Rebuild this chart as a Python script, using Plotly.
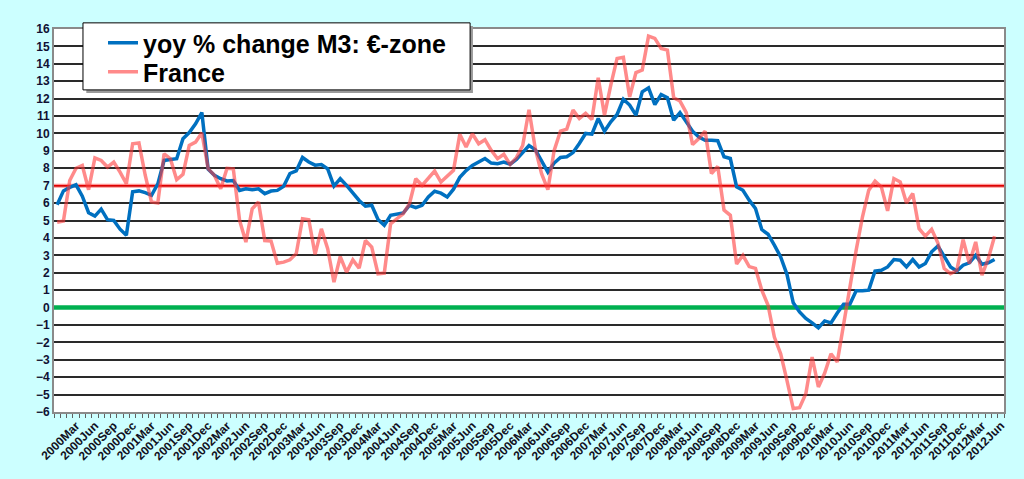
import pandas as pd
import plotly.graph_objects as go

# monthly categories, Dec 1999 .. Jun 2012 (last category has no data)
months = pd.period_range("1999-12", "2012-06", freq="M")
cat_labels = [f"{p.year}{p.strftime('%b')}" for p in months]

# yoy % change of M3, euro zone
m3_ez = [
    5.9, 6.7, 6.9, 7.05, 6.4, 5.45, 5.25, 5.65, 5.05, 5.0,
    4.5, 4.15, 6.65, 6.7, 6.6, 6.45, 7.1, 8.45, 8.5, 8.55,
    9.7, 10.05, 10.55, 11.2, 7.95, 7.6, 7.4, 7.27, 7.3, 6.73,
    6.82, 6.77, 6.82, 6.54, 6.69, 6.73, 6.96, 7.7, 7.85, 8.62,
    8.36, 8.18, 8.22, 7.97, 6.98, 7.4, 7.02, 6.56, 6.15, 5.82,
    5.88, 5.06, 4.72, 5.3, 5.39, 5.43, 5.87, 5.74, 5.87, 6.35,
    6.68, 6.57, 6.35, 6.8, 7.48, 7.87, 8.16, 8.38, 8.56, 8.3,
    8.26, 8.36, 8.23, 8.5, 8.93, 9.31, 9.07, 8.45, 7.78, 8.3,
    8.62, 8.66, 8.9, 9.42, 10.0, 9.96, 10.86, 10.13, 10.67, 11.09,
    11.97, 11.63, 11.05, 12.39, 12.62, 11.66, 12.24, 12.05, 10.76, 11.2,
    10.63, 10.13, 9.8, 9.61, 9.61, 9.58, 8.66, 8.56, 6.93, 6.74,
    6.17, 5.69, 4.48, 4.21, 3.58, 2.91, 1.91, 0.27, -0.25, -0.63,
    -0.88, -1.17, -0.77, -0.88, -0.31, 0.19, 0.19, 0.96, 0.96, 1.0,
    2.1, 2.14, 2.33, 2.76, 2.72, 2.33, 2.76, 2.33, 2.53, 3.2,
    3.54, 2.95, 2.33, 2.1, 2.43, 2.57, 3.0, 2.49, 2.57, 2.76,
]

# France
m3_fr = [
    4.9, 4.97, 7.3, 8.0, 8.16, 6.77, 8.6, 8.45, 8.07, 8.36,
    7.78, 7.11, 9.41, 9.45, 7.6, 6.06, 6.0, 8.83, 8.55, 7.34,
    7.65, 9.31, 9.5, 10.04, 7.97, 7.59, 6.82, 8.0, 7.97, 5.0,
    3.76, 5.67, 6.06, 3.85, 3.82, 2.55, 2.61, 2.74, 3.09, 5.1,
    5.04, 3.05, 4.52, 3.38, 1.46, 2.93, 2.03, 2.74, 2.26, 3.85,
    3.47, 1.94, 1.98, 4.81, 5.1, 5.39, 5.96, 7.4, 7.02, 7.4,
    7.84, 7.21, 7.53, 7.88, 9.95, 9.22, 9.98, 9.41, 9.64, 9.03,
    8.55, 8.8, 8.22, 8.61, 9.31, 11.36, 9.12, 7.69, 6.77, 9.03,
    10.13, 10.25, 11.34, 10.86, 11.15, 10.8, 13.2, 11.05, 12.78, 14.31,
    14.37, 12.1, 13.5, 13.64, 15.59, 15.46, 14.88, 14.79, 12.05, 11.86,
    11.2, 9.36, 9.71, 10.13, 7.7, 8.1, 5.6, 5.3, 2.5, 3.0,
    2.35, 2.25, 1.0, 0.13, -1.7, -2.65, -4.18, -5.8, -5.75, -4.95,
    -2.84, -4.56, -3.76, -2.65, -3.13, -0.93, 1.38, 3.29, 5.2, 6.74,
    7.26, 6.93, 5.55, 7.41, 7.22, 6.01, 6.55, 4.53, 4.1, 4.49,
    3.71, 2.24, 1.95, 2.14, 3.9, 2.53, 3.77, 1.86, 2.8, 4.1,
]

reference_level = 7   # red line
zero_level = 0        # green line

x_idx = list(range(len(cat_labels)))
label_idx = x_idx[3::3]
label_txt = cat_labels[3::3]
x_lo, x_hi = -0.5, len(cat_labels) - 0.5

fig = go.Figure()
# flat reference lines, drawn first so the data sit on top
fig.add_trace(go.Scatter(
    x=[x_lo, x_hi], y=[zero_level, zero_level], mode="lines",
    line=dict(color="#00B050", width=4.5), showlegend=False, hoverinfo="skip",
))
fig.add_trace(go.Scatter(
    x=[x_lo, x_hi], y=[reference_level, reference_level], mode="lines",
    line=dict(color="rgba(255,120,120,0.8)", width=4), showlegend=False,
    hoverinfo="skip",
))
fig.add_trace(go.Scatter(
    x=[x_lo, x_hi], y=[reference_level, reference_level], mode="lines",
    line=dict(color="#E00000", width=1.5), showlegend=False, hoverinfo="skip",
))

fig.add_trace(go.Scatter(
    x=x_idx[:len(m3_ez)], y=m3_ez, mode="lines",
    name="yoy % change M3: €-zone", legend="legend",
    line=dict(color="#0070C0", width=3.5),
))
fig.add_trace(go.Scatter(
    x=x_idx[:len(m3_fr)], y=m3_fr, mode="lines",
    name="France", legend="legend2",
    line=dict(color="rgba(255,60,60,0.6)", width=3.5),
))

# legend frame with drop shadow
fig.add_shape(type="rect", xref="paper", yref="paper",
              x0=0.034, x1=0.441, y0=0.833, y1=1.008,
              fillcolor="#9A9A9A", line=dict(width=0), layer="above")
fig.add_shape(type="rect", xref="paper", yref="paper",
              x0=0.0305, x1=0.438, y0=0.841, y1=1.016,
              fillcolor="white", line=dict(color="black", width=1),
              layer="above")

legend_style = dict(
    x=0.0516, xanchor="left", yanchor="middle",
    bgcolor="rgba(0,0,0,0)", borderwidth=0,
    font=dict(size=25, color="black", weight="bold"),
    tracegroupgap=0, itemwidth=30,
)

fig.update_layout(
    width=1024,
    height=479,
    autosize=False,
    paper_bgcolor="#CCFFFF",
    plot_bgcolor="white",
    margin=dict(l=54, r=20, t=29, b=67),
    font=dict(family="Liberation Sans, Arial, sans-serif", color="#111133"),
    showlegend=True,
    legend=dict(y=0.9634, **legend_style),
    legend2=dict(y=0.8877, **legend_style),
)

fig.update_xaxes(
    range=[x_lo, x_hi],
    tickmode="array", tickvals=label_idx, ticktext=label_txt,
    tickangle=-45, ticks="",
    tickfont=dict(size=12, weight="bold", color="#111122"),
    minor=dict(tickmode="linear", tick0=-0.5, dtick=1, ticks="outside",
               ticklen=4, tickcolor="#606060", tickwidth=1, showgrid=False),
    showgrid=False, zeroline=False,
    showline=True, linecolor="#8A8A8A", linewidth=2, mirror=True,
)
fig.update_yaxes(
    range=[-6, 16], dtick=1, tick0=0,
    tickfont=dict(size=12, weight="bold", color="#111133"),
    showgrid=True, gridcolor="#2A2A2A", gridwidth=1.5,
    zeroline=False,
    showline=True, linecolor="#8A8A8A", linewidth=2, mirror=True,
    ticks="",
)

fig.write_html("out.html", config={"displayModeBar": False},
               post_script="document.body.style.margin='0';")
